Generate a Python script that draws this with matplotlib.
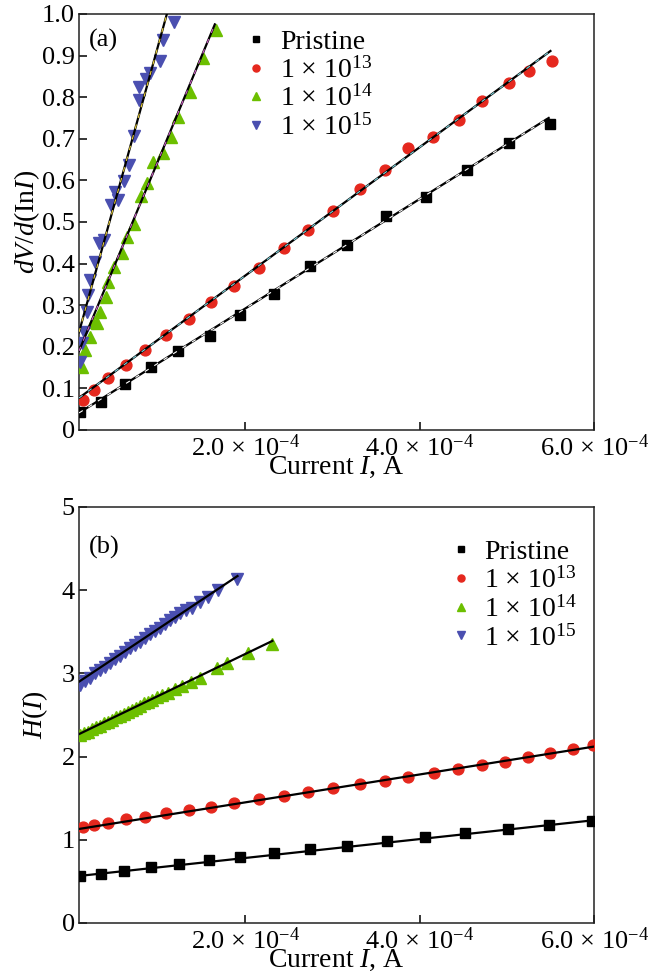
import matplotlib
matplotlib.use("Agg")
import matplotlib.pyplot as plt
import numpy as np

plt.rcParams['font.family'] = ['Liberation Serif', 'DejaVu Serif']
plt.rcParams['mathtext.fontset'] = 'custom'
plt.rcParams['mathtext.rm'] = 'Liberation Serif'
plt.rcParams['mathtext.it'] = 'Liberation Serif:italic'

##### data (current in units of 1e-4 A)

labels = ["Pristine", r"1 $\times$ 10$^{13}$", r"1 $\times$ 10$^{14}$", r"1 $\times$ 10$^{15}$"]

# panel (a): dV/d(lnI)
a_pr_x = [0.10, 0.345, 0.62, 0.92, 1.23, 1.59, 1.94, 2.33, 2.74, 3.17, 3.61, 4.07, 4.54, 5.02, 5.49]
a_pr_y = [0.043, 0.067, 0.11, 0.152, 0.19, 0.226, 0.276, 0.327, 0.394, 0.445, 0.514, 0.56, 0.625, 0.69, 0.736]

a_13_x = [0.14, 0.26, 0.43, 0.63, 0.85, 1.09, 1.35, 1.61, 1.87, 2.16, 2.44, 2.72, 3.01, 3.31, 3.60,
          3.87, 4.15, 4.45, 4.71, 5.02, 5.25, 5.52]
a_13_y = [0.072, 0.096, 0.125, 0.156, 0.192, 0.228, 0.267, 0.308, 0.346, 0.389, 0.437, 0.48, 0.527,
          0.579, 0.625, 0.678, 0.705, 0.745, 0.79, 0.834, 0.863, 0.887]

a_14_x = [0.13, 0.16, 0.22, 0.25, 0.30, 0.33, 0.40, 0.43, 0.49, 0.58, 0.64, 0.72, 0.80, 0.87, 0.94,
          1.05, 1.15, 1.23, 1.37, 1.51, 1.66]
a_14_y = [0.151, 0.192, 0.224, 0.26, 0.257, 0.284, 0.32, 0.356, 0.392, 0.425, 0.464, 0.495, 0.563,
          0.594, 0.645, 0.666, 0.704, 0.753, 0.813, 0.894, 0.962]

a_15_x = [0.10, 0.13, 0.15, 0.18, 0.20, 0.22, 0.28, 0.32, 0.38, 0.46, 0.51, 0.54, 0.61, 0.66, 0.72,
          0.78, 0.78, 0.86, 0.91, 1.02, 1.06, 1.18]
a_15_y = [0.163, 0.209, 0.236, 0.284, 0.325, 0.36, 0.404, 0.45, 0.457, 0.541, 0.572, 0.553, 0.599,
          0.637, 0.707, 0.793, 0.825, 0.843, 0.858, 0.888, 0.937, 0.981]

# fitted lines (x0, x1), (y0, y1)
a_fit_x = [(0.092, 5.48), (0.092, 5.50), (0.092, 1.65), (0.092, 1.10)]
a_fit_y = [(0.041, 0.75), (0.077, 0.911), (0.19, 0.975), (0.235, 1.0)]

# panel (b): H(I)
b_pr_x = [0.10, 0.34, 0.61, 0.92, 1.24, 1.58, 1.94, 2.33, 2.74, 3.17, 3.62, 4.06, 4.52, 5.01, 5.48, 5.98]
b_pr_y = [0.569, 0.589, 0.625, 0.67, 0.71, 0.757, 0.797, 0.841, 0.889, 0.925, 0.985, 1.03, 1.08,
          1.13, 1.18, 1.23]

b_13_x = [0.14, 0.26, 0.43, 0.63, 0.85, 1.09, 1.35, 1.61, 1.87, 2.16, 2.44, 2.72, 3.01, 3.31, 3.60,
          3.87, 4.16, 4.44, 4.71, 4.98, 5.24, 5.49, 5.76, 5.99]
b_13_y = [1.154, 1.178, 1.202, 1.25, 1.274, 1.32, 1.358, 1.394, 1.442, 1.49, 1.526, 1.574, 1.62,
          1.67, 1.707, 1.755, 1.80, 1.85, 1.90, 1.935, 1.995, 2.04, 2.09, 2.14]

b_14_x = [0.103, 0.149, 0.195, 0.241, 0.287, 0.333, 0.379, 0.425, 0.471, 0.517, 0.563, 0.609, 0.655,
          0.701, 0.747, 0.793, 0.839, 0.885, 0.931, 0.988, 1.046, 1.115, 1.195, 1.276, 1.379, 1.483,
          1.678, 1.793, 2.034, 2.310]
b_14_y = [2.26, 2.28, 2.30, 2.33, 2.35, 2.37, 2.40, 2.42, 2.44, 2.47, 2.49, 2.51, 2.54, 2.56, 2.58,
          2.61, 2.64, 2.66, 2.68, 2.71, 2.74, 2.77, 2.81, 2.85, 2.90, 2.94, 3.06, 3.12, 3.25, 3.35]

b_15_x = [0.103, 0.161, 0.218, 0.276, 0.333, 0.391, 0.448, 0.506, 0.563, 0.621, 0.678, 0.736, 0.793,
          0.851, 0.908, 0.966, 1.023, 1.080, 1.138, 1.195, 1.253, 1.322, 1.391, 1.483, 1.575, 1.690, 1.908]
b_15_y = [2.86, 2.91, 2.95, 3.00, 3.04, 3.08, 3.13, 3.17, 3.21, 3.26, 3.30, 3.34, 3.38, 3.43, 3.47,
          3.51, 3.55, 3.59, 3.64, 3.68, 3.72, 3.76, 3.79, 3.86, 3.92, 4.00, 4.14]

b_fit_x = [(0.092, 6.0), (0.092, 6.0), (0.092, 2.31), (0.092, 1.91)]
b_fit_y = [(0.565, 1.235), (1.13, 2.12), (2.27, 3.39), (2.90, 4.17)]

##### styles

colors = ["#000000", "#e5281e", "#6cbf00", "#4a4fb0"]
dash_colors = ["#ffffff", "#7fd3dc", "#d060c8", "#ecd23c"]
markers = ["s", "o", "^", "v"]
msizes = [6.8, 7.8, 8.0, 8.0]

xticks = [2e-4, 4e-4, 6e-4]
xticklabels = [r"2.0 $\times$ 10$^{-4}$", r"4.0 $\times$ 10$^{-4}$", r"6.0 $\times$ 10$^{-4}$"]

FS = 19


def style_axes(ax):
    ax.tick_params(direction="in", length=6, width=1.1, labelsize=FS, top=False, right=False, pad=3)
    for sp in ax.spines.values():
        sp.set_linewidth(1.1)
        sp.set_color("#222222")
    ax.set_xlim(0.092e-4, 6.0e-4)
    ax.set_xticks(xticks)
    ax.set_xticklabels(xticklabels)
    ax.set_xlabel(r"Current $I$, A", fontsize=FS + 1, labelpad=-4)


def draw_panel(ax, xs, ys, fit_x, fit_y, dashed):
    for i in range(4):
        x = np.array(xs[i]) * 1e-4
        ax.plot(x, ys[i], linestyle="none", marker=markers[i], ms=msizes[i],
                color=colors[i], mec=colors[i], label=labels[i], zorder=3)
    for i in range(4):
        fx = np.array(fit_x[i]) * 1e-4
        ax.plot(fx, fit_y[i], color="black", lw=1.6, zorder=4)
        if dashed:
            ax.plot(fx, fit_y[i], color=dash_colors[i], lw=0.8, ls=(0, (4, 6)), zorder=5)


fig = plt.figure(figsize=(6.53, 9.77), dpi=100)
ax1 = fig.add_axes([0.121, 0.5599, 0.7887, 0.4258])
ax2 = fig.add_axes([0.121, 0.0553, 0.7887, 0.4258])

leg_kw = dict(loc="upper left", frameon=False, fontsize=FS + 1, markerscale=0.65,
              handlelength=0.9, handletextpad=0.4, labelspacing=0.08, borderpad=0.0)

# (a)
draw_panel(ax1, [a_pr_x, a_13_x, a_14_x, a_15_x], [a_pr_y, a_13_y, a_14_y, a_15_y],
           a_fit_x, a_fit_y, True)
style_axes(ax1)
ax1.set_ylim(0, 1.0)
ax1.set_yticks(np.arange(0, 1.01, 0.1))
ax1.set_yticklabels(["0"] + [f"{v:.1f}" for v in np.arange(0.1, 1.01, 0.1)])
ax1.set_ylabel(r"$dV/d$(In$I$)", fontsize=FS + 1, labelpad=0)
ax1.text(0.02, 0.965, "(a)", transform=ax1.transAxes, fontsize=FS, va="top")
ax1.legend(bbox_to_anchor=(0.293, 0.997), **leg_kw)

# (b)
draw_panel(ax2, [b_pr_x, b_13_x, b_14_x, b_15_x], [b_pr_y, b_13_y, b_14_y, b_15_y],
           b_fit_x, b_fit_y, False)
style_axes(ax2)
ax2.set_ylim(0, 5)
ax2.set_yticks(range(6))
ax2.set_ylabel(r"$H$($I$)", fontsize=FS + 1, labelpad=8)
ax2.text(0.02, 0.93, "(b)", transform=ax2.transAxes, fontsize=FS, va="top")
ax2.legend(bbox_to_anchor=(0.69, 0.955), **leg_kw)

fig.savefig("out.png", dpi=100)
